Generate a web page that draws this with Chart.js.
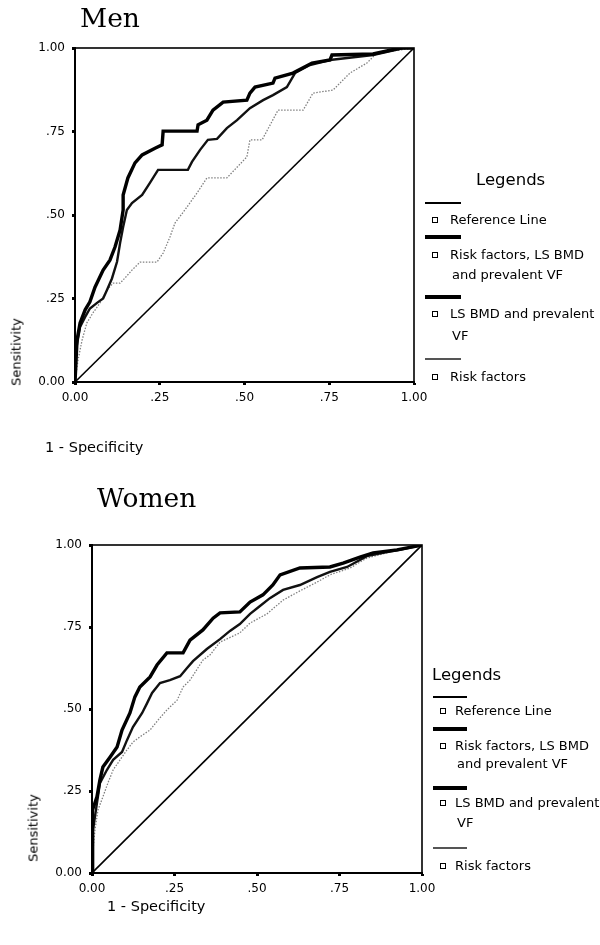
<!DOCTYPE html>
<html>
<head>
<meta charset="utf-8">
<script src="https://cdn.jsdelivr.net/npm/chart.js@4.4.1/dist/chart.umd.min.js"></script>
<style>
  html, body { margin:0; padding:0; background:#fff; }
  body { width:600px; height:945px; position:relative; overflow:hidden; font-family:"DejaVu Sans", sans-serif; color:#000; }
  .box { position:absolute; left:0; width:600px; }
  .t { position:absolute; white-space:nowrap; line-height:1; }
  .title { font-family:"DejaVu Serif", serif; font-size:26.5px; }
  .leg { font-size:13px; }
  .axt { font-size:14.5px; }
  .legh { font-size:16.5px; }
  .ln { position:absolute; background:#000; }
  .mk { position:absolute; width:4px; height:4px; border:1px solid #000; background:#fff; }
  .rot { position:absolute; white-space:nowrap; line-height:1; font-size:13px; transform:translate(-50%,-50%) rotate(-90deg); }
</style>
</head>
<body>
<div class="box" style="top:0;height:470px"><canvas id="men"></canvas></div>
<div class="box" style="top:470px;height:475px"><canvas id="women"></canvas></div>

<div class="t title" style="left:80px;top:5px">Men</div>
<div class="t title" style="left:97px;top:485px">Women</div>

<div class="rot" style="left:16px;top:352px">Sensitivity</div>
<div class="rot" style="left:33px;top:828px">Sensitivity</div>
<div class="t axt" style="left:45px;top:440px">1 - Specificity</div>
<div class="t axt" style="left:107px;top:899px">1 - Specificity</div>

<!-- Men legend -->
<div class="t legh" style="left:476px;top:172px">Legends</div>
<div class="ln" style="left:425px;top:202px;width:36px;height:1.5px"></div>
<div class="mk" style="left:432px;top:217px"></div>
<div class="t leg" style="left:450px;top:213px">Reference Line</div>
<div class="ln" style="left:425px;top:235px;width:36px;height:4px"></div>
<div class="mk" style="left:432px;top:252px"></div>
<div class="t leg" style="left:450px;top:248px">Risk factors, LS BMD</div>
<div class="t leg" style="left:452px;top:268px">and prevalent VF</div>
<div class="ln" style="left:425px;top:295px;width:36px;height:3.5px"></div>
<div class="mk" style="left:432px;top:311px"></div>
<div class="t leg" style="left:450px;top:307px">LS BMD and prevalent</div>
<div class="t leg" style="left:452px;top:329px">VF</div>
<div class="ln" style="left:425px;top:358px;width:36px;height:1.5px;background:#555"></div>
<div class="mk" style="left:432px;top:374px"></div>
<div class="t leg" style="left:450px;top:370px">Risk factors</div>

<!-- Women legend -->
<div class="t legh" style="left:432px;top:667px">Legends</div>
<div class="ln" style="left:433px;top:696px;width:34px;height:1.5px"></div>
<div class="mk" style="left:440px;top:708px"></div>
<div class="t leg" style="left:455px;top:704px">Reference Line</div>
<div class="ln" style="left:433px;top:727px;width:34px;height:4px"></div>
<div class="mk" style="left:440px;top:743px"></div>
<div class="t leg" style="left:455px;top:739px">Risk factors, LS BMD</div>
<div class="t leg" style="left:457px;top:757px">and prevalent VF</div>
<div class="ln" style="left:433px;top:786px;width:34px;height:3.5px"></div>
<div class="mk" style="left:440px;top:800px"></div>
<div class="t leg" style="left:455px;top:796px">LS BMD and prevalent</div>
<div class="t leg" style="left:457px;top:816px">VF</div>
<div class="ln" style="left:433px;top:847px;width:34px;height:1.5px;background:#555"></div>
<div class="mk" style="left:440px;top:863px"></div>
<div class="t leg" style="left:455px;top:859px">Risk factors</div>

<script>
// ---- data ----
const tickValues = [0, 0.25, 0.5, 0.75, 1];
const tickLabels = ['0.00', '.25', '.50', '.75', '1.00'];

const refX = [0, 1];
const refY = [0, 1];

// Men
const menFullX = [0, 0.006, 0.015, 0.03, 0.044, 0.059, 0.083, 0.103, 0.118, 0.133, 0.142, 0.142, 0.156, 0.177, 0.198, 0.236, 0.257, 0.26, 0.36, 0.363, 0.389, 0.407, 0.437, 0.507, 0.516, 0.531, 0.584, 0.59, 0.643, 0.699, 0.752, 0.758, 0.879, 0.959, 1];
const menFullY = [0, 0.126, 0.177, 0.216, 0.24, 0.284, 0.335, 0.365, 0.404, 0.455, 0.515, 0.56, 0.611, 0.656, 0.68, 0.70, 0.71, 0.751, 0.751, 0.77, 0.784, 0.814, 0.838, 0.844, 0.865, 0.883, 0.895, 0.91, 0.925, 0.955, 0.964, 0.979, 0.982, 1.0, 1];
const menBmdX = [0, 0.003, 0.015, 0.03, 0.044, 0.065, 0.083, 0.094, 0.109, 0.124, 0.133, 0.142, 0.153, 0.168, 0.198, 0.221, 0.245, 0.333, 0.345, 0.369, 0.392, 0.419, 0.448, 0.478, 0.516, 0.555, 0.584, 0.625, 0.649, 0.693, 0.752, 0.879, 0.97, 1];
const menBmdY = [0, 0.096, 0.165, 0.195, 0.22, 0.237, 0.25, 0.275, 0.31, 0.36, 0.416, 0.464, 0.515, 0.536, 0.56, 0.596, 0.635, 0.635, 0.659, 0.695, 0.725, 0.728, 0.76, 0.784, 0.82, 0.844, 0.859, 0.883, 0.925, 0.949, 0.964, 0.979, 1, 1];
const menRfX = [0, 0.009, 0.021, 0.035, 0.053, 0.074, 0.094, 0.112, 0.133, 0.147, 0.168, 0.192, 0.242, 0.26, 0.28, 0.295, 0.324, 0.36, 0.389, 0.448, 0.507, 0.516, 0.552, 0.599, 0.673, 0.702, 0.761, 0.811, 0.861, 0.891, 0.959, 1];
const menRfY = [0, 0.066, 0.126, 0.177, 0.207, 0.237, 0.275, 0.296, 0.296, 0.311, 0.335, 0.359, 0.359, 0.386, 0.434, 0.476, 0.515, 0.566, 0.611, 0.611, 0.674, 0.725, 0.725, 0.814, 0.814, 0.865, 0.874, 0.925, 0.955, 0.985, 0.994, 1];

// Women
const womFullX = [0, 0, 0.003, 0.015, 0.024, 0.033, 0.055, 0.076, 0.091, 0.115, 0.13, 0.145, 0.176, 0.197, 0.227, 0.276, 0.297, 0.336, 0.367, 0.388, 0.448, 0.479, 0.518, 0.548, 0.57, 0.63, 0.721, 0.761, 0.812, 0.852, 0.924, 1];
const womFullY = [0, 0.116, 0.192, 0.232, 0.284, 0.323, 0.354, 0.384, 0.436, 0.488, 0.537, 0.567, 0.598, 0.634, 0.671, 0.671, 0.71, 0.741, 0.777, 0.793, 0.796, 0.826, 0.848, 0.878, 0.909, 0.93, 0.933, 0.945, 0.963, 0.976, 0.985, 1];
const womBmdX = [0, 0.003, 0.015, 0.024, 0.045, 0.064, 0.091, 0.106, 0.124, 0.152, 0.167, 0.182, 0.206, 0.236, 0.267, 0.288, 0.306, 0.348, 0.388, 0.418, 0.448, 0.479, 0.509, 0.539, 0.579, 0.63, 0.682, 0.721, 0.773, 0.833, 0.882, 0.933, 1];
const womBmdY = [0, 0.131, 0.213, 0.274, 0.314, 0.345, 0.369, 0.405, 0.445, 0.488, 0.518, 0.549, 0.579, 0.588, 0.6, 0.625, 0.646, 0.683, 0.713, 0.738, 0.759, 0.79, 0.814, 0.838, 0.863, 0.878, 0.902, 0.918, 0.933, 0.966, 0.976, 0.985, 1];
const womRfX = [0, 0, 0.003, 0.009, 0.018, 0.033, 0.048, 0.064, 0.085, 0.106, 0.124, 0.145, 0.176, 0.2, 0.227, 0.258, 0.276, 0.297, 0.336, 0.358, 0.388, 0.448, 0.479, 0.53, 0.579, 0.63, 0.682, 0.721, 0.782, 0.833, 0.903, 1];
const womRfY = [0, 0.04, 0.07, 0.131, 0.192, 0.232, 0.274, 0.314, 0.345, 0.375, 0.399, 0.415, 0.436, 0.466, 0.497, 0.527, 0.567, 0.588, 0.649, 0.665, 0.704, 0.732, 0.762, 0.79, 0.832, 0.86, 0.887, 0.909, 0.93, 0.96, 0.979, 1];

// ---- helpers ----
const pts = (xs, ys) => xs.map((x, i) => ({ x: x, y: ys[i] }));
const tickCb = v => {
  const i = tickValues.findIndex(t => Math.abs(t - v) < 1e-9);
  return i >= 0 ? tickLabels[i] : '';
};
const frame = {
  id: 'frame',
  afterDatasetsDraw(chart) {
    const a = chart.chartArea, c = chart.ctx;
    c.save();
    c.strokeStyle = '#000';
    c.lineWidth = 1.6;
    c.strokeRect(a.left, a.top, a.right - a.left, a.bottom - a.top);
    c.restore();
  }
};

function makeChart(id, d, yw, pad) {
  const axis = (isX) => ({
    type: 'linear', min: 0, max: 1,
    afterBuildTicks: s => { s.ticks = tickValues.map(v => ({ value: v })); },
    afterFit: s => { if (isX) s.height = 30; else s.width = yw; },
    ticks: { callback: tickCb, color: '#000', font: { family: 'DejaVu Sans', size: 12 }, padding: isX ? 6 : 7, maxRotation: 0, autoSkip: false },
    grid: { drawOnChartArea: false, drawTicks: true, tickLength: 3, tickWidth: 3, tickColor: '#000' },
    border: { display: true, color: '#000', width: 2 }
  });
  return new Chart(document.getElementById(id), {
    type: 'scatter',
    data: {
      datasets: [
        { label: 'Reference Line', data: pts(refX, refY), showLine: true, borderColor: '#000', borderWidth: 1.6, pointRadius: 0, order: 3 },
        { label: 'Risk factors', data: pts(d.rfX, d.rfY), showLine: true, borderColor: '#808080', borderWidth: 1.3, borderDash: [1.5, 1.5], pointRadius: 0, order: 2 },
        { label: 'LS BMD and prevalent VF', data: pts(d.bmdX, d.bmdY), showLine: true, borderColor: '#111', borderWidth: 2.4, pointRadius: 0, order: 1 },
        { label: 'Risk factors, LS BMD and prevalent VF', data: pts(d.fullX, d.fullY), showLine: true, borderColor: '#000', borderWidth: 3.4, pointRadius: 0, order: 0 }
      ]
    },
    options: {
      responsive: true, maintainAspectRatio: false, animation: false,
      layout: { padding: pad },
      plugins: { legend: { display: false }, tooltip: { enabled: false }, title: { display: false } },
      elements: { line: { tension: 0 } },
      scales: { x: axis(true), y: axis(false) }
    },
    plugins: [frame]
  });
}

makeChart('men', { fullX: menFullX, fullY: menFullY, bmdX: menBmdX, bmdY: menBmdY, rfX: menRfX, rfY: menRfY },
  75, { left: 0, top: 48, right: 186, bottom: 58 });
makeChart('women', { fullX: womFullX, fullY: womFullY, bmdX: womBmdX, bmdY: womBmdY, rfX: womRfX, rfY: womRfY },
  92, { left: 0, top: 75, right: 178, bottom: 42 });
</script>
</body>
</html>
